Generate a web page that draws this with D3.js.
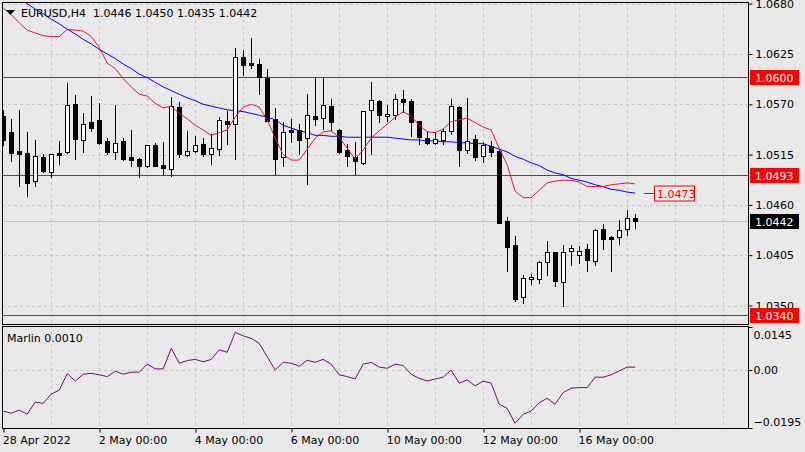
<!DOCTYPE html>
<html>
<head>
<meta charset="utf-8">
<script src="https://cdn.jsdelivr.net/npm/d3@7"></script>
<style>
body { margin: 0; background: #e8e8e8; }
svg { display: block; font-family: "DejaVu Sans", sans-serif; font-size: 11px; }
</style>
</head>
<body>
<svg id="chart" width="805" height="452"></svg>
<script>
// EURUSD H4 candles, 28 Apr 2022 .. 17 May 2022 04:00
var openP = [1.0557,1.0540,1.0519,1.0517,1.0486,1.0512,1.0496,1.0517,1.0518,1.0570,
  1.0531,1.0551,1.0553,1.0530,1.0518,1.0530,1.0512,1.0510,1.0503,1.0525,
  1.0504,1.0499,1.0567,1.0515,1.0519,1.0527,1.0516,1.0521,1.0552,1.0548,
  1.0622,1.0615,1.0614,1.0599,1.0554,1.0512,1.0542,1.0542,1.0533,1.0557,
  1.0555,1.0568,1.0542,1.0520,1.0512,1.0506,1.0564,1.0574,1.0557,1.0558,
  1.0576,1.0574,1.0552,1.0533,1.0528,1.0531,1.0541,1.0567,1.0520,1.0532,
  1.0514,1.0524,1.0519,1.0442,1.0416,1.0359,1.0379,1.0379,1.0398,1.0409,
  1.0376,1.0410,1.0405,1.0412,1.0399,1.0434,1.0425,1.0425,1.0434,1.0446];
var highP = [1.0564,1.0554,1.0564,1.0540,1.0531,1.0516,1.0516,1.0530,1.0593,1.0580,
  1.0560,1.0579,1.0571,1.0533,1.0569,1.0533,1.0542,1.0511,1.0526,1.0528,
  1.0529,1.0578,1.0573,1.0541,1.0535,1.0533,1.0537,1.0556,1.0563,1.0632,
  1.0629,1.0643,1.0619,1.0609,1.0566,1.0551,1.0554,1.0548,1.0581,1.0599,
  1.0599,1.0576,1.0543,1.0527,1.0529,1.0563,1.0594,1.0575,1.0569,1.0581,
  1.0586,1.0576,1.0552,1.0540,1.0540,1.0543,1.0576,1.0568,1.0577,1.0536,
  1.0529,1.0530,1.0521,1.0447,1.0426,1.0383,1.0384,1.0399,1.0420,1.0409,
  1.0416,1.0416,1.0415,1.0417,1.0434,1.0439,1.0426,1.0443,1.0454,1.0450];
var lowP = [1.0525,1.0508,1.0481,1.0470,1.0481,1.0496,1.0491,1.0505,1.0517,1.0510,
  1.0518,1.0541,1.0527,1.0516,1.0510,1.0509,1.0502,1.0491,1.0501,1.0502,
  1.0494,1.0492,1.0512,1.0513,1.0518,1.0513,1.0505,1.0515,1.0527,1.0510,
  1.0602,1.0610,1.0581,1.0552,1.0494,1.0503,1.0529,1.0516,1.0483,1.0547,
  1.0543,1.0542,1.0517,1.0503,1.0494,1.0505,1.0516,1.0551,1.0552,1.0554,
  1.0562,1.0535,1.0527,1.0527,1.0527,1.0527,1.0537,1.0502,1.0517,1.0509,
  1.0507,1.0513,1.0440,1.0388,1.0355,1.0353,1.0373,1.0375,1.0383,1.0371,
  1.0349,1.0394,1.0397,1.0388,1.0394,1.0412,1.0388,1.0417,1.0427,1.0435];
var closeP = [1.0531,1.0517,1.0516,1.0484,1.0513,1.0497,1.0516,1.0515,1.0569,1.0532,
  1.0549,1.0544,1.0528,1.0518,1.0528,1.0510,1.0509,1.0502,1.0526,1.0502,
  1.0500,1.0568,1.0516,1.0519,1.0525,1.0516,1.0522,1.0553,1.0549,1.0622,
  1.0613,1.0613,1.0600,1.0552,1.0510,1.0540,1.0540,1.0531,1.0558,1.0554,
  1.0569,1.0551,1.0518,1.0513,1.0508,1.0563,1.0575,1.0558,1.0559,1.0576,
  1.0572,1.0551,1.0534,1.0528,1.0532,1.0541,1.0568,1.0520,1.0530,1.0512,
  1.0525,1.0518,1.0440,1.0414,1.0357,1.0380,1.0381,1.0398,1.0408,1.0377,
  1.0409,1.0413,1.0410,1.0400,1.0433,1.0423,1.0423,1.0433,1.0446,1.0442];

// moving averages (red fast, blue slow)
var maFast = [1.0675,1.0668,1.0659,1.0651,1.0648,1.0645,1.0644,1.0644,1.0652,1.0651,
  1.0650,1.0644,1.0632,1.0615,1.0609,1.0598,1.0589,1.0581,1.0579,1.0571,
  1.0566,1.0568,1.0560,1.0554,1.0547,1.0542,1.0536,1.0539,1.0542,1.0556,
  1.0567,1.0570,1.0567,1.0553,1.0533,1.0515,1.0509,1.0509,1.0521,1.0533,
  1.0540,1.0541,1.0534,1.0522,1.0510,1.0520,1.0533,1.0541,1.0548,1.0556,
  1.0562,1.0557,1.0547,1.0540,1.0539,1.0543,1.0551,1.0553,1.0555,1.0550,
  1.0545,1.0542,1.0522,1.0504,1.0475,1.0468,1.0468,1.0476,1.0484,1.0486,
  1.0487,1.0487,1.0485,1.0480,1.0480,1.0480,1.0482,1.0483,1.0484,1.0483];
var maSlow = [1.0696,1.0691,1.0685,1.0680,1.0674,1.0669,1.0663,1.0658,1.0652,1.0647,
  1.0641,1.0636,1.0630,1.0625,1.0620,1.0614,1.0609,1.0603,1.0599,1.0594,
  1.0589,1.0585,1.0581,1.0577,1.0574,1.0570,1.0568,1.0566,1.0564,1.0563,
  1.0562,1.0560,1.0558,1.0556,1.0553,1.0547,1.0544,1.0541,1.0539,1.0536,
  1.0536,1.0535,1.0535,1.0534,1.0534,1.0534,1.0534,1.0534,1.0534,1.0533,
  1.0532,1.0531,1.0531,1.0530,1.0530,1.0529,1.0529,1.0528,1.0528,1.0527,
  1.0527,1.0524,1.0521,1.0518,1.0513,1.0510,1.0506,1.0503,1.0498,1.0495,
  1.0493,1.0489,1.0487,1.0485,1.0482,1.0480,1.0477,1.0476,1.0474,1.0473];

// Marlin oscillator
var marlin = [-0.0138,-0.0145,-0.0135,-0.0148,-0.0108,-0.0112,-0.0081,-0.0067,-0.0012,-0.0037,
  -0.0014,-0.0011,-0.0016,-0.0022,-0.0004,-0.0014,-0.0007,-0.0007,0.0020,0.0004,
  0.0004,0.0073,0.0023,0.0032,0.0036,0.0028,0.0036,0.0068,0.0060,0.0127,
  0.0115,0.0107,0.0090,0.0045,0.0000,0.0026,0.0023,0.0013,0.0033,0.0026,
  0.0036,0.0020,-0.0016,-0.0022,-0.0030,0.0020,0.0026,0.0010,0.0006,0.0020,
  0.0015,-0.0014,-0.0028,-0.0037,-0.0030,-0.0024,0.0000,-0.0044,-0.0033,-0.0053,
  -0.0037,-0.0044,-0.0115,-0.0129,-0.0179,-0.0149,-0.0138,-0.0110,-0.0095,-0.0115,
  -0.0076,-0.0061,-0.0059,-0.0059,-0.0024,-0.0024,-0.0016,-0.0003,0.0010,0.0010];

var priceTicks = [1.0680, 1.0625, 1.0570, 1.0515, 1.0460, 1.0405, 1.0350];
var marlinTicks = [0.0145, 0.00, -0.0195];
var levelPrices = [1.0600, 1.0493, 1.0340];
var lastPrice = 1.0442;
var maLabel = 1.0473;
var timeIdx = [0, 12, 24, 36, 48, 60, 72];
var timeLabels = ["28 Apr 2022", "2 May 00:00", "4 May 00:00", "6 May 00:00", "10 May 00:00", "12 May 00:00", "16 May 00:00"];
var header = "EURUSD,H4  1.0446 1.0450 1.0435 1.0442";

var svg = d3.select("#chart");
var pLeft = 2, pRight = 748, pTop = 2, mainBottom = 324, indTop = 326, indBottom = 428;

var x = d3.scaleLinear().domain([0, 79]).range([3.3, 635.1]);
var y = d3.scaleLinear().domain([1.0680, 1.0350]).range([3.7, 305.5]);
var yi = d3.scaleLinear().domain([0.0145, -0.0195]).range([327, 428]);

var defs = svg.append("defs");
defs.append("clipPath").attr("id", "clipMain").append("rect")
  .attr("x", pLeft).attr("y", pTop).attr("width", pRight - pLeft).attr("height", mainBottom - pTop);
defs.append("clipPath").attr("id", "clipInd").append("rect")
  .attr("x", pLeft).attr("y", indTop).attr("width", pRight - pLeft).attr("height", indBottom - indTop);

var mainG = svg.append("g").attr("clip-path", "url(#clipMain)");
var indG = svg.append("g").attr("clip-path", "url(#clipInd)");

// vertical day grid
var dayLines = d3.range(6, 96, 6).filter(function(d) { return x(d) < pRight; });
[mainG, indG].forEach(function(g, k) {
  g.selectAll("line.vgrid").data(dayLines).enter().append("line").attr("class", "vgrid")
    .attr("x1", function(d) { return Math.round(x(d)) + 0.5; })
    .attr("x2", function(d) { return Math.round(x(d)) + 0.5; })
    .attr("y1", k == 0 ? pTop : indTop).attr("y2", k == 0 ? mainBottom : indBottom)
    .attr("stroke", "#c4c4c4").attr("stroke-dasharray", "3,3");
});

// horizontal price grid
mainG.selectAll("line.hgrid").data(priceTicks).enter().append("line").attr("class", "hgrid")
  .attr("x1", pLeft).attr("x2", pRight)
  .attr("y1", function(d) { return Math.round(y(d)) + 0.5; })
  .attr("y2", function(d) { return Math.round(y(d)) + 0.5; })
  .attr("stroke", "#c4c4c4").attr("stroke-dasharray", "3,3");

// last price line
mainG.append("rect").attr("x", pLeft).attr("width", pRight - pLeft)
  .attr("y", Math.round(y(lastPrice))).attr("height", 1).attr("fill", "#c0c0c0")
  .attr("shape-rendering", "crispEdges");

// red levels
mainG.selectAll("rect.level").data(levelPrices).enter().append("rect").attr("class", "level")
  .attr("x", pLeft).attr("width", pRight - pLeft)
  .attr("y", function(d) { return Math.round(y(d)); })
  .attr("height", 1)
  .attr("fill", "#ff0000")
  .attr("shape-rendering", "crispEdges");

// slow moving average
var maLine = d3.line().x(function(d, i) { return x(i); }).y(function(d) { return y(d); });
mainG.append("path").attr("d", maLine(maSlow)).attr("fill", "none").attr("stroke", "#0000ff").attr("stroke-width", 1);

// candles
var idx = d3.range(openP.length);
var cg = mainG.append("g").attr("shape-rendering", "crispEdges");
cg.selectAll("line.wick").data(idx).enter().append("line").attr("class", "wick")
  .attr("x1", function(i) { return Math.round(x(i)) + 0.5; })
  .attr("x2", function(i) { return Math.round(x(i)) + 0.5; })
  .attr("y1", function(i) { return Math.round(y(highP[i])); })
  .attr("y2", function(i) { return Math.round(y(lowP[i])) + 1; })
  .attr("stroke", "#000");
cg.selectAll("rect.body").data(idx).enter().append("rect").attr("class", "body")
  .attr("x", function(i) { return Math.round(x(i)) - 2 + 0.5; })
  .attr("width", 4)
  .attr("y", function(i) { return Math.round(y(Math.max(openP[i], closeP[i]))) + 0.5; })
  .attr("height", function(i) { return Math.max(1, Math.round(y(Math.min(openP[i], closeP[i]))) - Math.round(y(Math.max(openP[i], closeP[i])))); })
  .attr("fill", function(i) { return closeP[i] >= openP[i] ? "#fff" : "#000"; })
  .attr("stroke", "#000");

// fast moving average
mainG.append("path").attr("d", maLine(maFast)).attr("fill", "none").attr("stroke", "#e0143c").attr("stroke-width", 1);

// MA value tag
var tagY = Math.round(y(maLabel)) + 0.5;
svg.append("line").attr("x1", 644).attr("x2", 654).attr("y1", tagY).attr("y2", tagY).attr("stroke", "#ff0000");
svg.append("rect").attr("x", 654.5).attr("y", tagY - 7.5).attr("width", 40).attr("height", 15)
  .attr("fill", "#e8e8e8").attr("stroke", "#ff0000");
svg.append("text").attr("x", 657).attr("y", tagY + 4).attr("fill", "#ff0000").text(d3.format(".4f")(maLabel));

// header
svg.append("path").attr("d", "M6,10L15,10L10.5,15Z").attr("fill", "#000");
svg.append("text").attr("x", 21).attr("y", 17).style("white-space", "pre").attr("fill", "#000").text(header);

// indicator
indG.append("line").attr("x1", pLeft).attr("x2", pRight)
  .attr("y1", Math.round(yi(0)) + 0.5).attr("y2", Math.round(yi(0)) + 0.5)
  .attr("stroke", "#c4c4c4").attr("stroke-dasharray", "3,3");
var lineInd = d3.line().x(function(d, i) { return x(i); }).y(function(d) { return yi(d); });
indG.append("path").attr("d", lineInd(marlin)).attr("fill", "none").attr("stroke", "#800080");
svg.append("text").attr("x", 7).attr("y", 342).text("Marlin " + d3.format(".4f")(marlin[marlin.length - 1]));

// panel borders
svg.append("rect").attr("x", pLeft + 0.5).attr("y", pTop + 0.5).attr("width", pRight - pLeft).attr("height", mainBottom - pTop)
  .attr("fill", "none").attr("stroke", "#000");
svg.append("rect").attr("x", pLeft + 0.5).attr("y", indTop + 0.5).attr("width", pRight - pLeft).attr("height", indBottom - indTop)
  .attr("fill", "none").attr("stroke", "#000");

// price axis
var pAxis = svg.append("g").attr("transform", "translate(" + (pRight + 0.5) + ",0)")
  .call(d3.axisRight(y).tickValues(priceTicks).tickFormat(d3.format(".4f")).tickSize(4).tickPadding(3));
pAxis.select(".domain").remove();
pAxis.selectAll("text").style("font-family", "DejaVu Sans").style("font-size", "11px").attr("fill", "#000");
pAxis.selectAll("line").attr("stroke", "#000");

// indicator axis
var iAxis = svg.append("g").attr("transform", "translate(" + (pRight + 0.5) + ",0)")
  .call(d3.axisRight(yi).tickValues(marlinTicks).tickFormat(function(d) { return d == 0 ? "0.00" : d3.format(".4f")(d); }).tickSize(4).tickPadding(1));
iAxis.select(".domain").remove();
iAxis.selectAll("text").style("font-family", "DejaVu Sans").style("font-size", "11px").attr("fill", "#000")
  .attr("dy", function(d) { return d > 0 ? "1.0em" : (d < 0 ? "-0.2em" : "0.32em"); });
iAxis.selectAll("line").attr("stroke", "#000");

// level tags on the axis
var tags = svg.selectAll("g.tag").data(levelPrices).enter().append("g").attr("class", "tag");
tags.append("rect").attr("x", 750).attr("y", function(d) { return Math.round(y(d)) - 7; })
  .attr("width", 49).attr("height", 15).attr("fill", "#ff0000");
tags.append("text").attr("x", 755).attr("y", function(d) { return Math.round(y(d)) + 4.5; })
  .attr("fill", "#fff").text(function(d) { return d3.format(".4f")(d); });

var lp = svg.append("g");
lp.append("rect").attr("x", 750).attr("y", Math.round(y(lastPrice)) - 7).attr("width", 49).attr("height", 15).attr("fill", "#000");
lp.append("text").attr("x", 755).attr("y", Math.round(y(lastPrice)) + 4.5).attr("fill", "#fff").text(d3.format(".4f")(lastPrice));

// time axis
var tAxis = svg.append("g").attr("transform", "translate(0," + (indBottom + 0.5) + ")")
  .call(d3.axisBottom(x).tickValues(timeIdx).tickFormat(function(d, i) { return timeLabels[i]; }).tickSize(4).tickPadding(4));
tAxis.select(".domain").remove();
tAxis.selectAll("line").attr("stroke", "#000").attr("transform", function(d) { return "translate(" + (Math.round(x(d)) + 0.5 - x(d)) + ",0)"; });
tAxis.selectAll("text").style("font-family", "DejaVu Sans").style("font-size", "11px").attr("fill", "#000")
  .attr("text-anchor", "start").attr("dx", -1);
</script>
</body>
</html>
